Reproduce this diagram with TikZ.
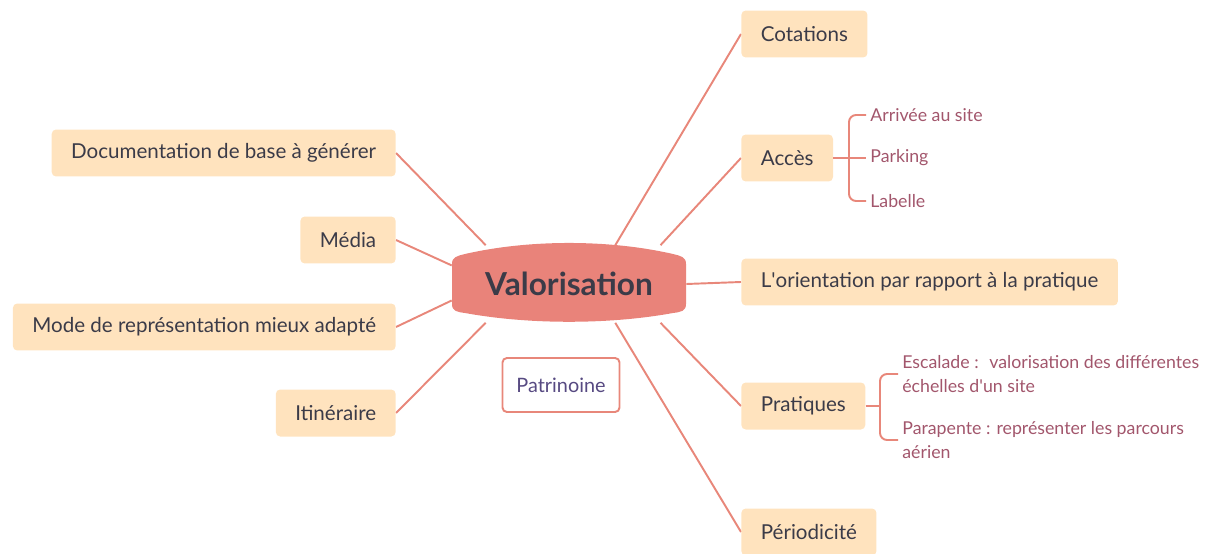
\documentclass[tikz,border=0pt]{standalone}
\usepackage{fontspec}
\setmainfont{Lato}
\usetikzlibrary{backgrounds,calc}

\definecolor{peche}{HTML}{FFE3BE}
\definecolor{saumon}{HTML}{E8877A}
\definecolor{valfond}{HTML}{E9837A}
\definecolor{encre}{HTML}{3B3B48}
\definecolor{rose}{HTML}{A2566C}
\definecolor{violet}{HTML}{574A82}

\tikzset{
  idee/.style={fill=peche,rounded corners=2.5pt,text=encre,font=\fontsize{11.7}{14}\selectfont,
    minimum height=0.94cm,inner xsep=0.39cm},
  branche/.style={draw=saumon,line width=1.1pt},
  detail/.style={text=rose,font=\fontsize{10.1}{13.6}\selectfont,inner ysep=1pt,inner xsep=0.08cm,
    anchor=west,align=left}
}

\begin{document}
\begin{tikzpicture}[x=0.02cm,y=-0.02cm]
      \useasboundingbox (0,0) rectangle (1213,554);

      \node[text=encre,font=\bfseries\fontsize{18}{21}\selectfont,minimum width=4.68cm,
        minimum height=1.54cm,inner sep=0] (val) at (569,284) {Valorisation};

      \node[idee,anchor=west] (cot) at (741,34) {Cotations};
      \node[idee,anchor=west] (acc) at (741,158) {Accès};
      \node[idee,anchor=west] (ori) at (741,282) {L\textquotesingle orientation par rapport à la pratique};
      \node[idee,anchor=west] (pra) at (741,406) {Pratiques};
      \node[idee,anchor=west] (per) at (741,532) {Périodicité};

      \node[idee,anchor=east] (doc) at (396,153) {Documentation de base à générer};
      \node[idee,anchor=east] (med) at (396,240) {Média};
      \node[idee,anchor=east] (mod) at (396,327) {Mode de représentation mieux adapté};
      \node[idee,anchor=east] (iti) at (396,413) {Itinéraire};

      \node[draw=saumon,line width=1.1pt,rounded corners=2.5pt,text=violet,
        font=\fontsize{11.3}{13}\selectfont,minimum width=2.34cm,minimum height=1.08cm] (pat) at (561,385) {Patrinoine};

      % sous-branches
      \node[detail] (arr) at (866,115) {Arrivée au site};
      \node[detail] (park) at (866,158) {Parking};
      \node[detail] (lab) at (866,201) {Labelle};
      \draw[branche,rounded corners=4pt] (arr.west) -- ++(-17,0) |- (lab.west);
      \draw[branche] (acc.east) -- (park.west);

      \node[detail] (esc) at (898,374) {Escalade :~ valorisation des différentes\\échelles d\textquotesingle un site};
      \node[detail] (pap) at (898,440) {Parapente : représenter les parcours\\aérien};
      \draw[branche,rounded corners=4pt] (esc.west) -- ++(-18,0) |- (pap.west);
      \coordinate (pb) at ($(esc.west)+(-18,0)$);
      \draw[branche] (pra.east) -- (pra.east -| pb);

      \begin{pgfonlayer}{background}
        \draw[branche] (val.40) -- (cot.west);
        \draw[branche] (val.23) -- (acc.west);
        \draw[branche] (val.0) -- (ori.west);
        \draw[branche] (val.-23) -- (pra.west);
        \draw[branche] (val.-40) -- (per.west);
        \draw[branche] (val.155) -- (doc.east);
        \draw[branche] (val.171) -- (med.east);
        \draw[branche] (val.188) -- (mod.east);
        \draw[branche] (val.205) -- (iti.east);

        \begin{scope}[shift={(val.center)}]
          \fill[valfond] (-117,20) -- (-117,-20)
            .. controls (-117,-27) and (-112,-28) .. (-104,-30)
            .. controls (-40,-44.7) and (40,-44.7) .. (104,-30)
            .. controls (112,-28) and (117,-27) .. (117,-20)
            -- (117,20)
            .. controls (117,27) and (112,28) .. (104,29)
            .. controls (40,40.7) and (-40,40.7) .. (-104,29)
            .. controls (-112,28) and (-117,27) .. cycle;
        \end{scope}
      \end{pgfonlayer}
\end{tikzpicture}
\end{document}
